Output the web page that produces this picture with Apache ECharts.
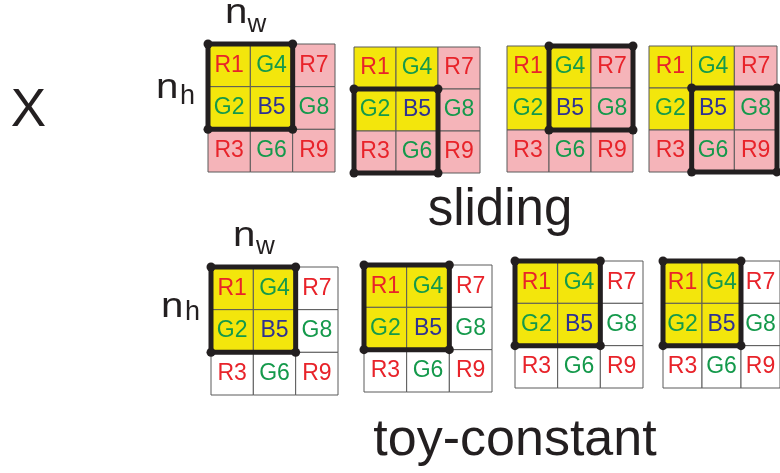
<!DOCTYPE html>
<html>
<head>
<meta charset="utf-8">
<script src="https://cdn.jsdelivr.net/npm/echarts@6/dist/echarts.min.js"></script>
<style>html,body{margin:0;padding:0;background:#fff}#main{width:780px;height:473px}</style>
</head>
<body>
<div id="main"></div>
<script>
// ---- data ----
const cellLabels = [
  ['R1', 'G4', 'R7'],
  ['G2', 'B5', 'G8'],
  ['R3', 'G6', 'R9']
];
const kernelCells = [[0, 0], [1, 0], [0, 1], [1, 1]]; // [col,row] highlighted (yellow)
const slidingWindows = [[0, 0], [0, 1], [1, 0], [1, 1]]; // window top-left [col,row] per panel
const toyWindows = [[0, 0], [0, 0], [0, 0], [0, 0]];
const windowSize = 2;
const rowTitles = ['sliding', 'toy-constant'];

// ---- layout (pixels) ----
const panels = [
  {l: 208, t: 44, w: 127, h: 128, bg: '#f5b4b9', win: slidingWindows[0]},
  {l: 354, t: 47, w: 126, h: 126, bg: '#f5b4b9', win: slidingWindows[1]},
  {l: 507, t: 46, w: 126, h: 126, bg: '#f5b4b9', win: slidingWindows[2]},
  {l: 649, t: 46, w: 128, h: 126, bg: '#f5b4b9', win: slidingWindows[3]},
  {l: 211, t: 267, w: 127, h: 128, bg: '#ffffff', win: toyWindows[0]},
  {l: 364, t: 265, w: 128, h: 127, bg: '#ffffff', win: toyWindows[1]},
  {l: 515, t: 261, w: 128, h: 127, bg: '#ffffff', win: toyWindows[2]},
  {l: 663, t: 261, w: 128, h: 127, bg: '#ffffff', win: toyWindows[3]}
];
const YELLOW = '#f3e60c';
const textColor = {R: '#e8232a', G: '#14994b', B: '#2e3192'};
const FONT = 'Liberation Sans, Arial, sans-serif';

const chart = echarts.init(document.getElementById('main'), null, {renderer: 'canvas'});

const grids = [], xAxes = [], yAxes = [], series = [];
panels.forEach((p, i) => {
  grids.push({left: p.l, top: p.t, width: p.w, height: p.h, containLabel: false});
  xAxes.push({type: 'value', gridIndex: i, min: 0, max: 3, show: false});
  yAxes.push({type: 'value', gridIndex: i, min: 0, max: 3, inverse: true, show: false});
  const cells = [];
  for (let r = 0; r < 3; r++) for (let c = 0; c < 3; c++) {
    const hl = kernelCells.some(k => k[0] === c && k[1] === r) ? 1 : 0;
    cells.push([c, r, cellLabels[r][c], hl]);
  }
  series.push({
    type: 'custom', xAxisIndex: i, yAxisIndex: i, clip: false, silent: true,
    data: cells,
    renderItem: (params, api) => {
      const c = api.value(0), r = api.value(1);
      const lab = cells[params.dataIndex][2];
      const hl = cells[params.dataIndex][3];
      const p0 = api.coord([c, r]), p1 = api.coord([c + 1, r + 1]);
      return {
        type: 'group', children: [
          {type: 'rect', shape: {x: p0[0], y: p0[1], width: p1[0] - p0[0], height: p1[1] - p0[1]},
           style: {fill: hl ? YELLOW : p.bg, stroke: '#5b5b5b', lineWidth: 1}},
          {type: 'text', z2: 5, style: {text: lab, x: (p0[0] + p1[0]) / 2, y: (p0[1] + p1[1]) / 2,
           align: 'center', verticalAlign: 'middle', fill: textColor[lab[0]], font: '23px ' + FONT}}
        ]
      };
    }
  });
  series.push({
    type: 'custom', xAxisIndex: i, yAxisIndex: i, clip: false, silent: true, z: 5,
    data: [[p.win[0], p.win[1], p.win[0] + windowSize, p.win[1] + windowSize]],
    renderItem: (params, api) => {
      const a = api.coord([api.value(0), api.value(1)]);
      const b = api.coord([api.value(2), api.value(3)]);
      const pts = [[a[0], a[1]], [b[0], a[1]], [b[0], b[1]], [a[0], b[1]]];
      const kids = [{type: 'rect', shape: {x: a[0], y: a[1], width: b[0] - a[0], height: b[1] - a[1]},
        style: {fill: 'none', stroke: '#231f20', lineWidth: 5}}];
      pts.forEach(q => kids.push({type: 'circle', shape: {cx: q[0], cy: q[1], r: 4.5}, style: {fill: '#231f20'}}));
      return {type: 'group', children: kids};
    }
  });
});

const txt = (text, x, y, size, align, sx) => ({
  type: 'text', silent: true, x, y, scaleX: sx || 1,
  style: {text, x: 0, y: 0, font: size + 'px ' + FONT, fill: '#231f20', align: align || 'left', verticalAlign: 'middle'}
});

chart.setOption({
  animation: false,
  grid: grids, xAxis: xAxes, yAxis: yAxes, series,
  graphic: [
    txt('X', 28.5, 111, 53, 'center'),
    txt('n', 225, 13, 35, 'left', 1.15), txt('w', 247.5, 25, 26),
    txt('n', 156, 88, 35, 'left', 1.15), txt('h', 180, 96.5, 27),
    txt('n', 233, 236.3, 35, 'left', 1.15), txt('w', 256, 246.5, 26),
    txt('n', 161, 307.3, 35, 'left', 1.15), txt('h', 185, 313, 27),
    txt(rowTitles[0], 500, 210.5, 51, 'center'),
    txt(rowTitles[1], 515, 441, 52, 'center')
  ]
});
</script>
</body>
</html>
